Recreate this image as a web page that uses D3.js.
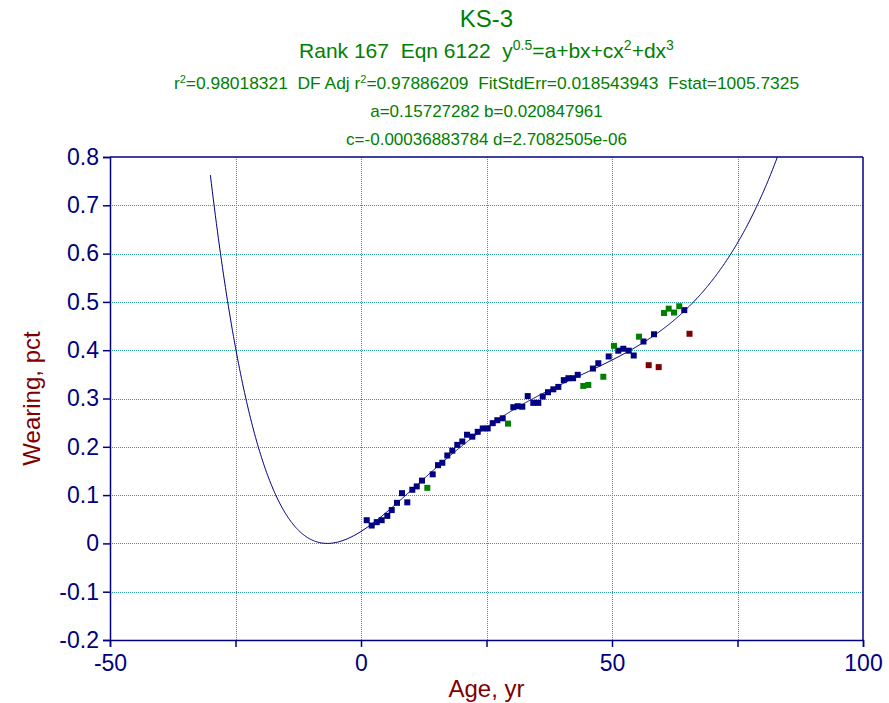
<!DOCTYPE html>
<html><head><meta charset="utf-8">
<script src="https://cdn.jsdelivr.net/npm/d3@7/dist/d3.min.js"></script>
<style>body{margin:0;background:#fff}svg{display:block}text{font-family:"Liberation Sans",Arial,sans-serif}</style>
</head><body>
<script>
// ---- data ----
const navyAge = [1.14,2.13,3.13,4.12,5.24,6.12,7.17,8.17,9.22,10.22,11.1,12.15,14.28,15.34,16.2,17.19,18.19,19.18,20.18,21.12,22.17,23.25,24.25,25.24,26.24,27.15,28.23,30.34,31.21,32.13,33.21,34.32,35.32,36.2,37.25,38.31,39.31,40.4,41.31,42.25,43.17,46.2,47.27,49.34,51.25,52.25,53.33,54.33,56.27,58.37,64.4];
const navyWear = [0.048,0.037,0.044,0.048,0.057,0.069,0.084,0.104,0.085,0.111,0.118,0.130,0.143,0.162,0.167,0.182,0.192,0.204,0.211,0.225,0.221,0.231,0.238,0.238,0.249,0.255,0.259,0.282,0.284,0.283,0.305,0.291,0.291,0.304,0.313,0.319,0.324,0.338,0.342,0.342,0.349,0.362,0.373,0.387,0.399,0.403,0.399,0.389,0.418,0.433,0.483];
const greenAge = [13.21,29.28,44.28,45.28,48.27,50.4,55.38,60.36,61.29,62.35,63.4];
const greenWear = [0.115,0.248,0.326,0.328,0.345,0.409,0.428,0.477,0.486,0.478,0.491];
const redAge = [57.31,59.3,65.44];
const redWear = [0.369,0.365,0.434];
const xTicks = [-50,0,50,100];
const xGrid = [-25,0,25,50,75];
const yTicks = [-0.2,-0.1,0,0.1,0.2,0.3,0.4,0.5,0.6,0.7,0.8];
// fit parameters (from the title): y^0.5 = a + b x + c x^2 + d x^3
const A = 0.15727282, B = 0.020847961, C = -0.00036883784, D = 2.7082505e-06;
const curveStart = -30, curveEnd = 100;

const W = 889, H = 703;
const L = 110, R = 863, T = 157, Bt = 640;
const navy = "#000080", green = "#008000", maroon = "#800000";

const svg = d3.select("body").append("svg").attr("width", W).attr("height", H);
const x = d3.scaleLinear().domain([-50, 100]).range([L, R]);
const y = d3.scaleLinear().domain([-0.2, 0.8]).range([Bt, T]);

// grid
const grid = svg.append("g").attr("stroke", "#2a9f9f").attr("stroke-width", 1).attr("stroke-dasharray", "1,1");
grid.selectAll("line.gx").data(xGrid).join("line")
  .attr("x1", d => Math.round(x(d)) + 0.5).attr("x2", d => Math.round(x(d)) + 0.5)
  .attr("y1", T).attr("y2", Bt);
grid.selectAll("line.gy").data(yTicks.filter(v => v > -0.2 && v < 0.8)).join("line")
  .attr("y1", d => Math.round(y(d)) + 0.5).attr("y2", d => Math.round(y(d)) + 0.5)
  .attr("x1", L).attr("x2", R);

// axes
const xAxis = d3.axisBottom(x).tickValues(xGrid.concat([-50, 100])).tickSize(7).tickFormat(d => xTicks.includes(d) ? String(d) : "");
const gx = svg.append("g").attr("transform", `translate(0,${Bt})`).call(xAxis);
const yAxis = d3.axisLeft(y).tickValues(yTicks).tickSize(7).tickFormat(d => String(+d.toFixed(1)));
const gy = svg.append("g").attr("transform", `translate(${L},0)`).call(yAxis);
[gx, gy].forEach(g => {
  g.select(".domain").attr("stroke", navy).attr("stroke-width", 1.5);
  g.selectAll(".tick line").attr("stroke", navy).attr("stroke-width", 1.5);
  g.selectAll(".tick text").attr("fill", navy).style("font-size", "23px")
    .style("font-family", '"Liberation Sans",Arial,sans-serif');
});
gx.selectAll(".tick text").attr("dy", "0.95em").attr("y", 9);
gy.selectAll(".tick text").attr("x", -11);
// frame top/right
svg.append("line").attr("x1", L).attr("x2", R).attr("y1", T).attr("y2", T).attr("stroke", navy).attr("stroke-width", 1.5);
svg.append("line").attr("x1", R).attr("x2", R).attr("y1", T).attr("y2", Bt).attr("stroke", navy).attr("stroke-width", 1.5);

// clip
svg.append("clipPath").attr("id", "clip").append("rect").attr("x", L).attr("y", T).attr("width", R - L).attr("height", Bt - T);

// fit curve
const fitX = d3.range(curveStart, curveEnd + 0.001, 0.2);
const fitPts = fitX.map(v => { const s = A + B * v + C * v * v + D * v * v * v; return [v, s * s]; });
svg.append("path").attr("clip-path", "url(#clip)")
  .attr("d", d3.line().x(d => x(d[0])).y(d => y(d[1]))(fitPts))
  .attr("fill", "none").attr("stroke", navy).attr("stroke-width", 1);

// points
const sz = 6;
function pts(ages, vals, col) {
  svg.append("g").selectAll("rect").data(ages.map((a, i) => [a, vals[i]])).join("rect")
    .attr("x", d => x(d[0]) - sz / 2).attr("y", d => y(d[1]) - sz / 2)
    .attr("width", sz).attr("height", sz).attr("fill", col);
}
pts(navyAge, navyWear, navy);
pts(greenAge, greenWear, green);
pts(redAge, redWear, maroon);

// titles
const cx = (L + R) / 2;
svg.append("text").attr("x", cx).attr("y", 27).attr("text-anchor", "middle").attr("fill", green)
  .style("font-size", "24px").text("KS-3");
const t2 = svg.append("text").attr("x", cx).attr("y", 58).attr("text-anchor", "middle").attr("fill", green).style("font-size", "21px");
t2.append("tspan").text("Rank 167\u00a0\u00a0Eqn 6122\u00a0\u00a0y");
t2.append("tspan").attr("dy", -8).style("font-size", "14px").text("0.5");
t2.append("tspan").attr("dy", 8).text("=a+bx+cx");
t2.append("tspan").attr("dy", -8).style("font-size", "14px").text("2");
t2.append("tspan").attr("dy", 8).text("+dx");
t2.append("tspan").attr("dy", -8).style("font-size", "14px").text("3");
const t3 = svg.append("text").attr("x", cx).attr("y", 89).attr("text-anchor", "middle").attr("fill", green).style("font-size", "17.4px");
t3.append("tspan").text("r");
t3.append("tspan").attr("dy", -6).style("font-size", "11px").text("2");
t3.append("tspan").attr("dy", 6).text("=0.98018321\u00a0\u00a0DF Adj r");
t3.append("tspan").attr("dy", -6).style("font-size", "11px").text("2");
t3.append("tspan").attr("dy", 6).text("=0.97886209\u00a0\u00a0FitStdErr=0.018543943\u00a0\u00a0Fstat=1005.7325");
svg.append("text").attr("x", cx).attr("y", 117).attr("text-anchor", "middle").attr("fill", green)
  .style("font-size", "17px").text("a=0.15727282 b=0.020847961");
svg.append("text").attr("x", cx).attr("y", 145).attr("text-anchor", "middle").attr("fill", green)
  .style("font-size", "17px").text("c=-0.00036883784 d=2.7082505e-06");

// axis titles
svg.append("text").attr("x", cx).attr("y", 697).attr("text-anchor", "middle").attr("fill", maroon)
  .style("font-size", "24px").text("Age, yr");
svg.append("text").attr("transform", `translate(40,${(T + Bt) / 2}) rotate(-90)`).attr("text-anchor", "middle")
  .attr("fill", maroon).style("font-size", "24px").text("Wearing, pct");
</script>
</body></html>
